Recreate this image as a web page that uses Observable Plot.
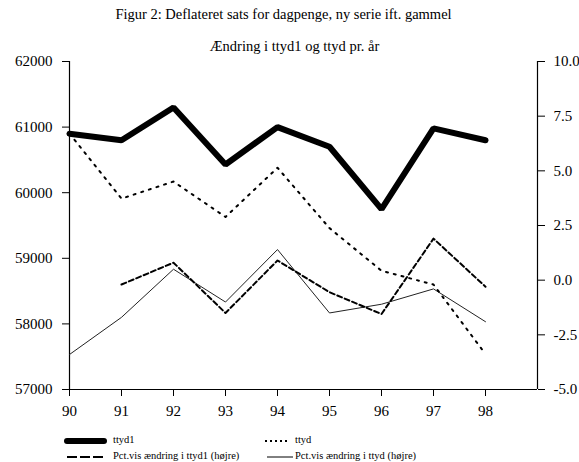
<!DOCTYPE html>
<html><head><meta charset="utf-8">
<script src="https://cdn.jsdelivr.net/npm/d3@7"></script>
<script src="https://cdn.jsdelivr.net/npm/@observablehq/plot@0.6"></script>
<style>
body{margin:0;background:#fff;}
#wrap{position:relative;width:579px;height:462px;font-family:"Liberation Serif","Times New Roman",serif;overflow:hidden;}
.leg{position:absolute;font-family:"Liberation Serif","Times New Roman",serif;font-size:10.5px;line-height:1;white-space:nowrap;color:#000;}
.sw{position:absolute;}
</style></head><body><div id="wrap"></div>
<script>
const years = [90, 91, 92, 93, 94, 95, 96, 97, 98];
const ttyd1 = [60900, 60800, 61300, 60430, 61000, 60700, 59750, 60980, 60800];
const ttyd = [60900, 59910, 60170, 59630, 60380, 59460, 58810, 58600, 57540];
const pctTtyd1 = [null, -0.2, 0.8, -1.5, 0.9, -0.55, -1.55, 1.9, -0.3];
const pctTtyd = [-3.4, -1.7, 0.5, -1.0, 1.4, -1.5, -1.1, -0.4, -1.9];
const leftTicks = [57000, 58000, 59000, 60000, 61000, 62000];
const rightTicks = [-5, -2.5, 0, 2.5, 5, 7.5, 10];
const title = "Figur 2: Deflateret sats for dagpenge, ny serie ift. gammel";
const subtitle = "Ændring i ttyd1 og ttyd pr. år";
const legendLabels = ["ttyd1", "ttyd", "Pct.vis ændring i ttyd1 (højre)", "Pct.vis ændring i ttyd (højre)"];

const FONT = "Liberation Serif, Times New Roman, serif";
const leftDomain = [57000, 62000];
const rightDomain = [-5, 10];
const toLeft = v => leftDomain[0] + (v - rightDomain[0]) / (rightDomain[1] - rightDomain[0]) * (leftDomain[1] - leftDomain[0]);
const fromLeft = y => rightDomain[0] + (y - leftDomain[0]) / (leftDomain[1] - leftDomain[0]) * (rightDomain[1] - rightDomain[0]);
const fmtRight = y => { const v = Math.round(fromLeft(y) * 10) / 10; return (v === 0 ? 0 : v).toFixed(1); };

const s1 = years.map((x, i) => ({x, y: ttyd1[i]}));
const s2 = years.map((x, i) => ({x, y: ttyd[i]}));
const s3 = years.map((x, i) => ({x, v: pctTtyd1[i]})).filter(d => d.v != null).map(d => ({x: d.x, y: toLeft(d.v)}));
const s4 = years.map((x, i) => ({x, y: toLeft(pctTtyd[i])}));

const chart = Plot.plot({
  width: 579, height: 462,
  marginTop: 61, marginBottom: 73, marginLeft: 69, marginRight: 42,
  x: {domain: [90, 99], axis: null},
  y: {domain: leftDomain, axis: null},
  style: {fontFamily: FONT, fontSize: "15px", color: "#000", background: "#fff", overflow: "visible"},
  marks: [
    Plot.axisY({ticks: leftTicks, anchor: "left", label: null, tickSize: 7, tickPadding: 10, tickFormat: d => String(d), fontSize: 15, fontFamily: FONT, fontVariant: "normal", strokeOpacity: 1}),
    Plot.axisY({ticks: rightTicks.map(toLeft), anchor: "right", label: null, tickSize: 7, tickPadding: 9, tickFormat: fmtRight, fontSize: 15, fontFamily: FONT, fontVariant: "normal", strokeOpacity: 1}),
    Plot.axisX({ticks: years, anchor: "bottom", label: null, tickSize: 7, tickPadding: 9, tickFormat: d => String(d), fontSize: 15, fontFamily: FONT, fontVariant: "normal", strokeOpacity: 1}),
    Plot.ruleX([90, 99], {y1: leftDomain[0], y2: leftDomain[1], stroke: "#000", strokeWidth: 1.2}),
    Plot.ruleY([leftDomain[0]], {x1: 90, x2: 99, stroke: "#000", strokeWidth: 1.2}),
    Plot.line(s4, {x: "x", y: "y", stroke: "#222", strokeWidth: 1}),
    Plot.line(s3, {x: "x", y: "y", stroke: "#000", strokeWidth: 2, strokeDasharray: "5,3"}),
    Plot.line(s2, {x: "x", y: "y", stroke: "#000", strokeWidth: 2, strokeDasharray: "2,6"}),
    Plot.line(s1, {x: "x", y: "y", stroke: "#000", strokeWidth: 6, strokeLinecap: "round", strokeLinejoin: "miter"}),
    Plot.text([title], {frameAnchor: "top", text: d => d, dx: -20, dy: -43, lineAnchor: "bottom", fontSize: 14.5, fontFamily: FONT}),
    Plot.text([subtitle], {frameAnchor: "top", text: d => d, dx: -9, dy: -11, lineAnchor: "bottom", fontSize: 14.5, fontFamily: FONT})
  ]
});
const wrap = document.getElementById("wrap");
wrap.appendChild(chart);

// legend
const items = [
  {x: 67, y: 441, w: 37, tx: 113, label: legendLabels[0], sw: 6, dash: null, cap: "round"},
  {x: 265, y: 441, w: 25, tx: 295, label: legendLabels[1], sw: 2, dash: "2,3", cap: "butt"},
  {x: 67, y: 457, w: 37, tx: 113, label: legendLabels[2], sw: 2, dash: "10,3", cap: "butt"},
  {x: 267, y: 457, w: 26, tx: 295, label: legendLabels[3], sw: 1, dash: null, cap: "butt"}
];
for (const it of items) {
  const svg = d3.create("svg").attr("class", "sw").attr("width", it.w + 8).attr("height", 10)
    .style("left", (it.x - 4) + "px").style("top", (it.y - 5) + "px");
  svg.append("line").attr("x1", 4).attr("x2", 4 + it.w).attr("y1", 5).attr("y2", 5)
    .attr("stroke", "#000").attr("stroke-width", it.sw).attr("stroke-linecap", it.cap)
    .attr("stroke-dasharray", it.dash);
  wrap.appendChild(svg.node());
  const t = document.createElement("div");
  t.className = "leg";
  t.textContent = it.label;
  t.style.left = it.tx + "px";
  t.style.top = (it.y - 6) + "px";
  wrap.appendChild(t);
}
</script>
</body></html>
